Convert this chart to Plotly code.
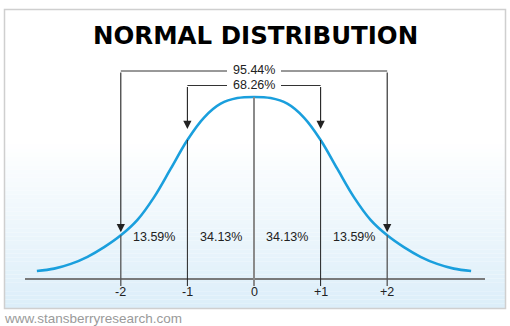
import plotly.graph_objects as go

# ---- data (in standard deviations / fraction of peak) ----
curve_x = [-3.26, -3.0, -2.75, -2.5, -2.25, -2.0, -1.75, -1.5, -1.25, -1.0, -0.75, -0.5, -0.25, 0.0,
           0.25, 0.5, 0.75, 1.0, 1.25, 1.5, 1.75, 2.0, 2.25, 2.5, 2.75, 3.0, 3.26]
curve_y = [0.044, 0.057, 0.083, 0.122, 0.175, 0.24, 0.325, 0.45, 0.606, 0.764, 0.887, 0.963, 0.994, 1.0,
           0.994, 0.963, 0.887, 0.764, 0.606, 0.45, 0.325, 0.24, 0.175, 0.122, 0.083, 0.057, 0.044]
tick_vals = [-2, -1, 0, 1, 2]
tick_text = ["-2", "-1", "0", "+1", "+2"]
band_x = [-1.5, -0.5, 0.5, 1.5]
band_labels = ["13.59%", "34.13%", "34.13%", "13.59%"]
bracket_labels = {2: "95.44%", 1: "68.26%"}
title = "NORMAL DISTRIBUTION"
footer = "www.stansberryresearch.com"

# ---- geometry helpers (pixel -> data) ----
W, H = 510, 326
AX_Y = 279          # pixel row of the axis line
PX_PER_UNIT_Y = 182
PX_PER_SD = 66.6
CX = 254
def ypx(p):  # pixel row -> data y
    return (AX_Y - p) / PX_PER_UNIT_Y

def val_at(x):
    return curve_y[curve_x.index(float(x))]

blue = "#1a9fdd"
fig = go.Figure()
fig.add_trace(go.Scatter(x=curve_x, y=curve_y, mode="lines",
                         line=dict(color=blue, width=2.6, shape="spline", smoothing=1.0),
                         hoverinfo="skip", showlegend=False))

shapes = []
# gradient background inside box
top_g, bot_g = 140, 308
n = 40
c0 = (255, 255, 255)
c1 = (220, 238, 249)
for i in range(n):
    y0 = top_g + (bot_g - top_g) * i / n
    y1 = top_g + (bot_g - top_g) * (i + 1) / n
    t = (i + 0.5) / n
    col = tuple(round(c0[k] + (c1[k] - c0[k]) * t) for k in range(3))
    shapes.append(dict(type="rect", xref="paper", yref="paper",
                       x0=5 / W, x1=505 / W, y0=1 - y1 / H, y1=1 - y0 / H,
                       line=dict(width=0), fillcolor="rgb(%d,%d,%d)" % col, layer="below"))
# border
shapes.append(dict(type="rect", xref="paper", yref="paper",
                   x0=4.5 / W, x1=505.5 / W, y0=1 - 308.5 / H, y1=1 - 9.5 / H,
                   line=dict(color="#cfcfcf", width=1.5), fillcolor="rgba(0,0,0,0)"))
# axis line
xmin_ax = (25 - CX) / PX_PER_SD
xmax_ax = (485 - CX) / PX_PER_SD
shapes.append(dict(type="line", x0=xmin_ax, x1=xmax_ax, y0=0, y1=0,
                   line=dict(color="#7a7a7a", width=2)))
# vertical lines from curve down through the axis
below = ypx(286)
for v in tick_vals:
    if v == 0:
        col, w = "#8a8a8a", 2
    elif abs(v) == 1:
        col, w = "#222222", 1
    else:
        col, w = "#555555", 1.3
    shapes.append(dict(type="line", x0=v, x1=v, y0=val_at(v), y1=below,
                       line=dict(color=col, width=w)))

annotations = []
label_font = dict(family="Liberation Sans, Arial", size=12.5, color="#222")
# brackets
bracket_y = {2: ypx(71), 1: ypx(85.5)}
text_y = {2: ypx(70), 1: ypx(84.5)}
gap = 27 / PX_PER_SD
tip_gap = {2: 3, 1: 11}
for k, lab in bracket_labels.items():
    yb = bracket_y[k]
    for a, b in ((-k, -gap), (gap, k)):
        shapes.append(dict(type="line", x0=a, x1=b, y0=yb, y1=yb,
                           line=dict(color="#333333", width=1)))
    annotations.append(dict(x=0, y=text_y[k], text=lab, showarrow=False, yanchor="middle",
                            font=label_font))
    for s in (-k, k):
        tip = val_at(s) + tip_gap[k] / PX_PER_UNIT_Y
        annotations.append(dict(x=s, y=tip, ax=s, ay=yb, axref="x", ayref="y",
                                xref="x", yref="y", text="", showarrow=True,
                                arrowhead=2, arrowsize=1.5, arrowwidth=1.1,
                                arrowcolor="#222"))
# band labels
for bx, lab in zip(band_x, band_labels):
    annotations.append(dict(x=bx, y=ypx(237), text=lab, showarrow=False, yanchor="middle",
                            font=label_font))
# tick labels
for v, t in zip(tick_vals, tick_text):
    annotations.append(dict(x=v, y=ypx(292), text=t, showarrow=False, yanchor="middle",
                            font=label_font))
# title
annotations.append(dict(xref="paper", yref="paper", x=0.5, y=1 - 35.5 / H, yanchor="middle",
                        text="<b>" + title + "</b>", showarrow=False,
                        font=dict(family="DejaVu Sans", size=24.5, color="#000", weight=900)))
# footer
annotations.append(dict(xref="paper", yref="paper", x=2 / W, y=1 - 318 / H, xanchor="left",
                        yanchor="middle", text=footer, showarrow=False,
                        font=dict(family="Liberation Sans, Arial", size=13.5, color="#9a9a9a")))

fig.update_layout(
    width=W, height=H, margin=dict(l=0, r=0, t=0, b=0),
    paper_bgcolor="white", plot_bgcolor="rgba(0,0,0,0)",
    xaxis=dict(range=[-CX / PX_PER_SD, (W - CX) / PX_PER_SD], domain=[0, 1], visible=False, fixedrange=True),
    yaxis=dict(range=[ypx(H), ypx(0)], domain=[0, 1], visible=False, fixedrange=True),
    shapes=shapes, annotations=annotations, showlegend=False,
)
fig.write_html("out.html")
